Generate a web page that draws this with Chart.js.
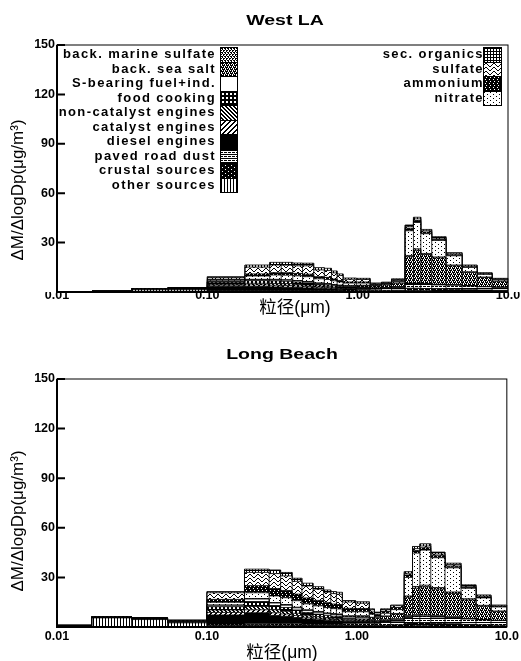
<!DOCTYPE html>
<html>
<head>
<meta charset="utf-8">
<script src="https://cdn.jsdelivr.net/npm/chart.js@4.4.1/dist/chart.umd.min.js"></script>
<style>
  body { margin: 0; background: #fff; width: 521px; height: 661px; position: relative; overflow: hidden;
         font-family: "Liberation Sans", Arial, "Noto Sans CJK SC", sans-serif; }
  .box { position: absolute; left: 0; width: 521px; }
  #box1 { top: 0; height: 330px; }
  #box2 { top: 330px; height: 331px; }
  .ytitle, .xtitle, .ptitle { position: absolute; white-space: nowrap; color: #000; transform: translate(-50%, -50%); }
  .ytitle { font-size: 17px; transform: translate(-50%, -50%) rotate(-90deg); }
  .xtitle { font-size: 17.5px; font-family: "Liberation Sans", "Noto Sans CJK SC", sans-serif; }
  .ptitle { font-size: 15px; font-weight: bold; transform: translate(-50%, -50%) scaleX(1.3); }
  .leg { position: absolute; font-weight: bold; font-size: 13px; letter-spacing: 1.4px; color: #000; }
  .leg .row { position: absolute; right: 0; height: 14.5px; line-height: 14.5px; white-space: nowrap; text-align: right; }
  .sw { position: absolute; border: 1px solid #000; box-sizing: border-box; image-rendering: pixelated; }
</style>
</head>
<body>
<div class="box" id="box1"><canvas id="c1"></canvas></div>
<div class="box" id="box2"><canvas id="c2"></canvas></div>
<div class="ptitle" style="left:285px;top:19px">West LA</div>
<div class="ptitle" style="left:282px;top:353px">Long Beach</div>
<div class="ytitle" style="left:18px;top:190px">ΔM/ΔlogDp(μg/m³)</div>
<div class="ytitle" style="left:18px;top:521px">ΔM/ΔlogDp(μg/m³)</div>
<div class="xtitle" style="left:295px;top:305px">粒径(μm)</div>
<div class="xtitle" style="left:282px;top:650px">粒径(μm)</div>
<div id="legend"></div>
<script>
// size bin edges (µm), 28 bins
const edges = [0.01, 0.0171, 0.0314, 0.0546, 0.1, 0.178, 0.26, 0.31, 0.37, 0.43, 0.51, 0.60, 0.67, 0.73,
               0.80, 0.98, 1.21, 1.31, 1.44, 1.68, 2.07, 2.35, 2.63, 3.11, 3.87, 4.95, 6.23, 7.84, 10];

// stacking order, bottom -> top
const sourceNames = ['other sources', 'crustal sources', 'paved road dust', 'diesel engines', 'catalyst engines',
  'non-catalyst engines', 'food cooking', 'S-bearing fuel+ind.', 'back. sea salt', 'back. marine sulfate',
  'nitrate', 'ammonium', 'sulfate', 'sec. organics'];

// West LA
const westOther    = [0.2,0.4,1.3,1.3, 0.3,0.3,0.3,0.3,0.3,0.3,0.3,0.3,0.3,0.3, 0.3,0.3,0.2,0.2,0.2,0.3, 0.8,0.8,0.7,0.6,0.5,0.4,0.3,0.3];
const westCrustal  = [0,0,0,0, 0.2,0.2,0.2,0.2,0.2,0.2,0.2,0.2,0.2,0.2, 0.3,0.4,0.5,0.5,0.6,0.8, 1.5,1.5,1.4,1.3,1.2,1.0,0.9,0.7];
const westRoad     = [0,0,0,0, 0.3,0.3,0.4,0.4,0.4,0.4,0.4,0.4,0.4,0.4, 0.6,0.8,1.0,1.0,1.2,1.5, 2.5,2.5,2.5,2.4,2.4,2.2,2.0,1.8];
const westDiesel   = [0.1,0.1,0.5,0.8, 2.5,2.5,2.2,2.0,1.8,1.6,1.3,1.1,1.0,0.8, 0.6,0.4,0.2,0.2,0.1,0.1, 0.1,0.1,0.1,0.1,0,0,0,0];
const westCatalyst = [0,0,0,0.1, 0.8,1.0,1.0,1.0,0.9,0.8,0.7,0.6,0.5,0.4, 0.3,0.2,0.1,0.1,0.1,0.1, 0,0,0,0,0,0,0,0];
const westNonCat   = [0,0,0.1,0.1, 0.6,1.0,1.1,1.1,1.0,0.9,0.7,0.6,0.5,0.4, 0.3,0.2,0.1,0.1,0.1,0.1, 0,0,0,0,0,0,0,0];
const westFood     = [0,0,0.1,0.2, 1.2,1.6,1.6,1.5,1.4,1.3,1.1,1.0,0.9,0.8, 0.6,0.4,0.2,0.2,0.2,0.2, 0.2,0.2,0.2,0.1,0.1,0,0,0];
const westSFuel    = [0,0,0,0, 0.3,0.6,0.7,0.7,0.7,0.6,0.5,0.5,0.4,0.4, 0.3,0.3,0.2,0.2,0.2,0.2, 0.3,0.3,0.3,0.2,0.2,0.1,0.1,0.1];
const westSeaSalt  = [0,0,0,0, 0,0,0,0,0,0.1,0.1,0.2,0.2,0.3, 0.5,0.9,1.2,1.2,1.5,2.0, 16,20,17.5,16,11.5,8.2,5.5,3.6];
const westMarine   = [0,0,0,0, 0.1,0.2,0.2,0.2,0.2,0.2,0.2,0.2,0.2,0.2, 0.2,0.2,0.1,0.1,0.1,0.2, 0.8,0.8,0.7,0.6,0.5,0.4,0.3,0.2];
const westNitrate  = [0,0,0,0, 0.8,2.0,2.6,2.8,2.9,2.9,2.5,2.5,2.2,1.9, 1.4,1.3,0.4,0.4,0.5,0.9, 15,16,12,10,5.6,2.6,1.6,0.9];
const westAmmonium = [0,0,0,0, 0.7,1.3,1.4,1.5,1.5,1.5,1.3,1.3,1.1,0.9, 0.7,0.7,0.4,0.4,0.4,0.5, 1.5,1.2,1.0,0.8,0.6,0.4,0.3,0.2];
const westSulfate  = [0,0,0,0, 1.0,4.1,4.7,4.6,4.6,5.1,4.1,4.2,3.7,3.0, 1.6,1.5,0.5,0.5,0.4,0.6, 1.0,1.0,0.8,0.7,0.6,0.5,0.4,0.2];
const westSecOrg   = [0,0,0,0, 0.5,1.3,1.6,1.7,1.7,1.6,1.4,1.3,1.2,1.0, 0.8,0.7,0.4,0.4,0.4,0.5, 1.0,1.0,0.8,0.8,0.7,0.6,0.3,0.3];

// Long Beach
const lbOther    = [0.6,5.5,4.5,2.5, 0.8,0.8,0.7,0.7,0.6,0.6,0.5,0.5,0.5,0.5, 0.4,0.4,0.3,0.3,0.3,0.4, 0.6,0.7,0.7,0.6,0.5,0.4,0.3,0.3];
const lbCrustal  = [0,0,0,0, 0.4,0.5,0.5,0.5,0.5,0.4,0.4,0.4,0.4,0.4, 0.5,0.6,0.6,0.6,0.7,0.9, 1.6,1.8,1.8,1.7,1.5,1.2,1.0,0.8];
const lbRoad     = [0,0,0,0, 0.6,0.8,0.8,0.8,0.8,0.7,0.7,0.7,0.7,0.7, 1.0,1.2,1.3,1.3,1.8,2.2, 3.5,3.8,3.8,3.7,3.6,3.2,3.0,2.8];
const lbDiesel   = [0.3,0.5,0.6,0.9, 5.5,6.5,5.0,4.5,3.8,3.2,2.8,2.4,2.2,2.0, 1.4,1.1,0.7,0.5,0.4,0.3, 0.2,0.2,0.1,0.1,0,0,0,0];
const lbCatalyst = [0,0,0,0.1, 1.5,1.8,1.6,1.4,1.2,1.0,0.9,0.8,0.7,0.7, 0.5,0.4,0.3,0.2,0.2,0.1, 0,0,0,0,0,0,0,0];
const lbNonCat   = [0.1,0.2,0.2,0.3, 1.5,2.0,1.8,1.6,1.4,1.2,1.0,0.9,0.8,0.8, 0.6,0.5,0.3,0.2,0.2,0.2, 0.1,0,0,0,0,0,0,0];
const lbFood     = [0,0.1,0.2,0.2, 2.0,3.0,2.6,2.3,2.0,1.7,1.5,1.3,1.2,1.2, 0.8,0.7,0.4,0.3,0.3,0.3, 0.2,0.2,0.2,0.1,0.1,0,0,0];
const lbSFuel    = [0,0,0,0, 0.8,1.5,1.5,1.4,1.3,1.2,1.1,1.0,1.0,1.0, 0.8,0.8,0.6,0.5,0.5,0.6, 0.8,0.8,0.7,0.7,0.6,0.4,0.3,0.2];
const lbSeaSalt  = [0,0,0,0, 0,0,0,0.1,0.1,0.1,0.2,0.2,0.3,0.3, 0.5,0.8,1.2,1.5,2.0,2.8, 11,16,17,16,14,11.2,8,5.2];
const lbMarine   = [0,0,0,0, 0.2,0.3,0.3,0.3,0.3,0.3,0.3,0.3,0.3,0.3, 0.3,0.3,0.2,0.2,0.3,0.4, 0.8,1.0,1.0,1.0,0.9,0.7,0.5,0.4];
const lbNitrate  = [0,0,0,0, 1.6,3.5,4.0,4.1,3.9,3.6,3.4,3.2,3.0,3.0, 2.4,2.4,1.8,0.8,1.6,2.3, 11.2,20.2,21.2,18,14.6,6.3,4.5,2.4];
const lbAmmonium = [0,0,0,0, 1.8,4.3,4.5,4.4,4.0,3.6,3.3,3.0,2.8,2.7, 2.1,2.0,1.4,1.1,1.2,1.3, 1.5,1.5,1.4,1.2,1.0,0.7,0.6,0.4];
const lbSulfate  = [0,0,0,0, 4.0,8.0,9.0,8.8,7.7,7.2,6.8,6.4,6.3,6.2, 3.8,3.2,1.3,1.0,1.0,1.1, 1.0,1.2,1.1,1.0,0.8,0.6,0.5,0.3];
const lbSecOrg   = [0,0,0,0, 0.7,2.0,2.2,2.1,1.9,1.7,1.5,1.3,1.2,1.2, 0.9,0.9,0.6,0.5,0.5,0.4, 1.0,1.3,1.3,1.2,1.0,0.8,0.7,0.5];

const westLA = [westOther, westCrustal, westRoad, westDiesel, westCatalyst, westNonCat, westFood, westSFuel,
                westSeaSalt, westMarine, westNitrate, westAmmonium, westSulfate, westSecOrg];
const longBeach = [lbOther, lbCrustal, lbRoad, lbDiesel, lbCatalyst, lbNonCat, lbFood, lbSFuel,
                   lbSeaSalt, lbMarine, lbNitrate, lbAmmonium, lbSulfate, lbSecOrg];

const xTicks = [0.01, 0.1, 1, 10];
const xTickLabels = ['0.01', '0.10', '1.00', '10.0'];
const yTicks = [0, 30, 60, 90, 120, 150];

// --- hatch patterns (black & white, like the printed figure) ---
function tileFromRows(rows) {
  const c = document.createElement('canvas');
  c.width = rows[0].length; c.height = rows.length;
  const g = c.getContext('2d');
  g.fillStyle = '#fff'; g.fillRect(0, 0, c.width, c.height);
  g.fillStyle = '#000';
  rows.forEach((r, y) => [...r].forEach((ch, x) => { if (ch === '#') g.fillRect(x, y, 1, 1); }));
  return c;
}
const tiles = [
  tileFromRows(['#..']),                                   // other: vertical lines
  tileFromRows(['######', '####.#', '######', '#.####']),  // crustal: black, few specks
  tileFromRows(['####', '....', '##.#', '....']),          // paved road dust: horizontal stripes
  tileFromRows(['#']),                                     // diesel: solid
  tileFromRows(['...##', '..##.', '.##..', '##...', '#...#']), // catalyst: ////
  tileFromRows(['##..', '.##.', '..##', '#..#']),          // non-catalyst: \\\\
  tileFromRows(['####', '#..#', '#..#', '####']),          // food cooking: white squares
  tileFromRows(['.']),                                     // S-bearing: blank
  tileFromRows(['###.###.', '.#.#.#.#', '.###.###', '#.#.#.#.']), // sea salt
  tileFromRows(['##.##.', '.#..#.', '#.##.#', '..#..#']),  // marine sulfate
  tileFromRows(['#.....', '......', '...#..', '......']),  // nitrate: dots
  tileFromRows(['##.#', '####', '#.##', '####']),          // ammonium: dark
  tileFromRows(['.##.....', '#..#....', '....#..#', '.....##.']), // sulfate: waves
  tileFromRows(['###', '#..', '#..'])                      // sec. organics: grid
];
const patterns = tiles.map(t => t.getContext('2d').createPattern(t, 'repeat'));

function stepPoints(vals) {
  return edges.map((e, i) => ({ x: e, y: vals[Math.min(i, vals.length - 1)] }));
}

// frame, inner y ticks and the vertical outlines of the histogram bars
const frame = {
  id: 'frame',
  afterDatasetsDraw(chart) {
    const { ctx, chartArea: a, scales: { x, y } } = chart;
    const series = chart.config.options.plugins.frame.series;
    const totals = series[0].map((_, b) => series.reduce((s, arr) => s + arr[b], 0));
    ctx.save();
    ctx.strokeStyle = '#000';
    ctx.lineWidth = 0.8;
    ctx.beginPath();
    edges.forEach((e, i) => {
      const h = Math.max(totals[i - 1] || 0, totals[i] || 0);
      const px = x.getPixelForValue(e);
      ctx.moveTo(px, y.getPixelForValue(0));
      ctx.lineTo(px, y.getPixelForValue(h));
    });
    ctx.stroke();
    ctx.lineWidth = 1;
    ctx.strokeRect(a.left, a.top, a.right - a.left, a.bottom - a.top);
    ctx.lineWidth = 2;
    ctx.beginPath();
    ctx.moveTo(a.left, a.top); ctx.lineTo(a.left, a.bottom); ctx.lineTo(a.right, a.bottom);
    yTicks.forEach(v => { const py = y.getPixelForValue(v); ctx.moveTo(a.left, py); ctx.lineTo(a.left + 8, py); });
    ctx.stroke();
    ctx.restore();
  }
};

Chart.defaults.font.family = "'Liberation Sans', Arial, sans-serif";
Chart.defaults.color = '#000';

function makeChart(id, series, padTop, xHeight, xPad) {
  const datasets = series.map((vals, i) => ({
    label: sourceNames[i],
    data: stepPoints(vals),
    stepped: true,
    fill: i === 0 ? 'origin' : '-1',
    backgroundColor: patterns[i],
    borderColor: '#000',
    borderWidth: 0.8,
    pointRadius: 0
  }));
  return new Chart(document.getElementById(id), {
    type: 'line',
    data: { datasets },
    plugins: [frame],
    options: {
      responsive: true, maintainAspectRatio: false, animation: false,
      layout: { padding: { left: 0, right: 13, top: padTop, bottom: 0 } },
      plugins: {
        legend: { display: false }, tooltip: { enabled: false }, title: { display: false },
        frame: { series }
      },
      scales: {
        x: {
          type: 'logarithmic', min: 0.01, max: 10,
          grid: { display: false, drawTicks: false }, border: { display: false },
          afterBuildTicks: s => { s.ticks = xTicks.map(v => ({ value: v })); },
          afterFit: s => { s.height = xHeight; },
          ticks: { autoSkip: false, maxRotation: 0, padding: xPad, font: { size: 12.5, weight: 'bold' },
                   callback: (v, i) => xTickLabels[i] }
        },
        y: {
          stacked: true, min: 0, max: 150,
          grid: { display: false, drawTicks: false }, border: { display: false },
          afterBuildTicks: s => { s.ticks = yTicks.map(v => ({ value: v })); },
          afterFit: s => { s.width = 57; },
          ticks: { padding: 2, font: { size: 12.5, weight: 'bold' }, callback: v => v === 0 ? '' : String(v) }
        }
      }
    }
  });
}

makeChart('c1', westLA, 45, 38, -4);
makeChart('c2', longBeach, 49, 34, 2);

// --- legend (top panel only), listed top -> bottom as in the figure ---
const legLeft = [9, 8, 7, 6, 5, 4, 3, 2, 1, 0];
const legRight = [13, 12, 11, 10];
const legendEl = document.getElementById('legend');
function addColumn(idxs, textRight, swLeft, swWidth, top) {
  const col = document.createElement('div');
  col.className = 'leg';
  col.style.left = '0px'; col.style.top = top + 'px';
  col.style.width = textRight + 'px';
  idxs.forEach((k, r) => {
    const row = document.createElement('div');
    row.className = 'row';
    row.style.top = (r * 14.5) + 'px';
    row.textContent = sourceNames[k];
    col.appendChild(row);
    const sw = document.createElement('div');
    sw.className = 'sw';
    sw.style.left = swLeft + 'px';
    sw.style.top = (top + r * 14.5) + 'px';
    sw.style.width = swWidth + 'px';
    sw.style.height = '15.5px';
    sw.style.backgroundImage = 'url(' + tiles[k].toDataURL() + ')';
    legendEl.appendChild(sw);
  });
  legendEl.appendChild(col);
}
addColumn(legLeft, 216, 220, 18, 47);
addColumn(legRight, 484, 483, 19, 47);
</script>
</body>
</html>
